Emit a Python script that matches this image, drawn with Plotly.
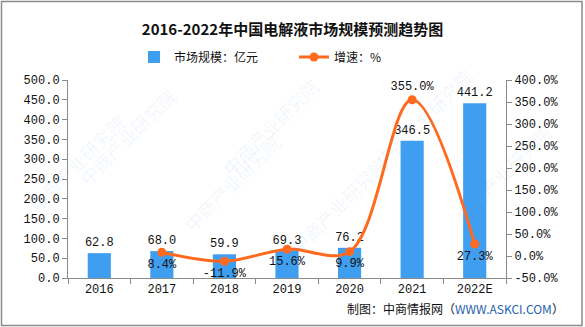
import plotly.graph_objects as go

years = ["2016", "2017", "2018", "2019", "2020", "2021", "2022E"]
market_size = [62.8, 68.0, 59.9, 69.3, 76.2, 346.5, 441.2]
growth_years = ["2017", "2018", "2019", "2020", "2021", "2022E"]
growth_rate = [8.4, -11.9, 15.6, 9.9, 355.0, 27.3]
left_ticks = [0, 50, 100, 150, 200, 250, 300, 350, 400, 450, 500]
right_ticks = [-50, 0, 50, 100, 150, 200, 250, 300, 350, 400]

W, H = 585, 327
L, R, T, B = 68, 79, 80, 49
PW, PH = W - L - R, H - T - B

NUM_FONT = "Liberation Mono, Noto Sans CJK SC, monospace"
CJK_FONT = "Noto Sans CJK SC, sans-serif"
BAR_COLOR = "#409EF0"
LINE_COLOR = "#FF6A1F"


def px_x(p):
    return (p - L) / PW


def px_y(p):
    return (H - B - p) / PH


fig = go.Figure()

fig.add_trace(go.Bar(
    x=years, y=market_size, name="市场规模：亿元",
    marker=dict(color=BAR_COLOR, line=dict(width=0)),
    text=[f"{v:.1f}" for v in market_size], textposition="outside",
    textangle=0, constraintext="none",
    textfont=dict(family=NUM_FONT, size=12, color="#111"),
    cliponaxis=False, yaxis="y",
))

fig.add_trace(go.Scatter(
    x=growth_years, y=growth_rate, name="增速：%", mode="lines+markers+text",
    line=dict(color=LINE_COLOR, width=3, shape="spline", smoothing=1.0),
    marker=dict(color=LINE_COLOR, size=9),
    text=[f"{v:.1f}%" for v in growth_rate],
    textposition=["bottom center" if v < 300 else "top center" for v in growth_rate],
    textfont=dict(family=NUM_FONT, size=12, color="#111"),
    cliponaxis=False, yaxis="y2",
))

axis_common = dict(showgrid=False, zeroline=False, showline=True,
                   linecolor="#8a8a8a", linewidth=1, ticks="outside",
                   ticklen=5, tickcolor="#8a8a8a",
                   tickfont=dict(family=NUM_FONT, size=12, color="#111"))

fig.update_layout(
    width=W, height=H,
    margin=dict(l=L, r=R, t=T, b=B),
    paper_bgcolor="white", plot_bgcolor="white",
    bargap=0.63,
    title=dict(text="<b>2016-2022年中国电解液市场规模预测趋势图</b>",
               x=0.5, xanchor="center", y=1 - 30 / H, yanchor="middle",
               font=dict(family=CJK_FONT, size=15, color="#111")),
    legend=dict(orientation="h", x=px_x(134), xanchor="left",
                y=px_y(57), yanchor="middle",
                font=dict(family=CJK_FONT, size=12, color="#111"),
                entrywidth=115, bgcolor="rgba(0,0,0,0)"),
    xaxis=dict(axis_common, tickson="boundaries", type="category"),
    yaxis=dict(axis_common, range=[0, 500], tickvals=left_ticks,
               ticktext=[f"{v:.1f}" for v in left_ticks]),
    yaxis2=dict(axis_common, range=[-50, 400], tickvals=right_ticks,
                ticktext=[f"{v:.1f}%" for v in right_ticks],
                overlaying="y", side="right"),
    showlegend=True,
)

# outer frame
fig.add_shape(type="rect", xref="paper", yref="paper",
              x0=px_x(1.5), x1=px_x(582), y0=px_y(325.5), y1=px_y(1.5),
              line=dict(color="#8a8a8a", width=1.5), layer="below")

# faint diagonal watermark
for cx, cy in [(70, 80), (270, 70), (480, 60), (175, 240), (395, 205),
               (560, 230), (20, 220)]:
    fig.add_annotation(x=px_x(cx), y=px_y(cy), xref="paper", yref="paper",
                       text="中商产业研究院", showarrow=False, textangle=-45,
                       font=dict(family=CJK_FONT, size=18,
                                 color="rgba(90,150,210,0.09)"))

# source note
fig.add_annotation(
    x=px_x(566), y=px_y(308), xref="paper", yref="paper",
    xanchor="right", yanchor="middle", showarrow=False,
    text="制图：中商情报网（<span style='color:#1f5fb0'>WWW.ASKCI.COM</span>）",
    font=dict(family=CJK_FONT, size=12, color="#111"),
)

fig.write_html("out.html")
